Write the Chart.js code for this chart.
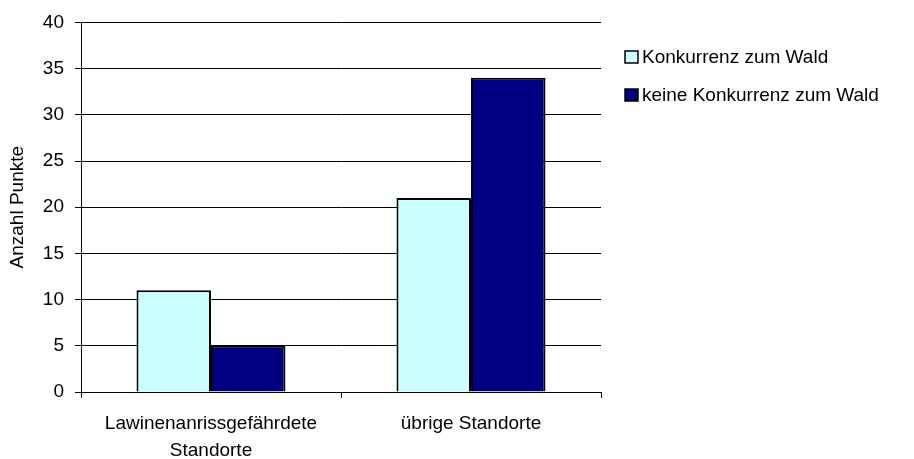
<!DOCTYPE html>
<html>
<head>
<meta charset="utf-8">
<script src="https://cdn.jsdelivr.net/npm/chart.js@4/dist/chart.umd.min.js"></script>
<style>
html,body{margin:0;padding:0;background:#fff;}
#wrap{width:914px;height:459px;position:relative;}
</style>
</head>
<body>
<div id="wrap"><canvas id="c" width="914" height="459"></canvas></div>
<script>
const categories = [["Lawinenanrissgefährdete", "Standorte"], "übrige Standorte"];
const seriesNames = ["Konkurrenz zum Wald", "keine Konkurrenz zum Wald"];
const konkurrenz = [11, 21];
const keineKonkurrenz = [5, 34];
const yTicks = [0, 5, 10, 15, 20, 25, 30, 35, 40];
const yTitle = "Anzahl Punkte";

const FONT = "'Liberation Sans', Arial, sans-serif";
const FS = 19;

const legendPlugin = {
  id: 'customLegend',
  afterDraw(chart) {
    const ctx = chart.ctx;
    ctx.save();
    ctx.font = FS + "px " + FONT;
    ctx.textBaseline = 'middle';
    ctx.textAlign = 'left';
    chart.data.datasets.forEach((ds, i) => {
      const cy = 57 + i * 38;
      ctx.fillStyle = ds.backgroundColor;
      ctx.fillRect(625, cy - 6, 13, 12);
      ctx.strokeStyle = '#000';
      ctx.lineWidth = 1.5;
      ctx.strokeRect(625, cy - 6, 13, 12);
      ctx.fillStyle = '#000';
      ctx.fillText(ds.label, 642, cy + 1);
    });
    ctx.restore();
  }
};

new Chart(document.getElementById('c'), {
  type: 'bar',
  data: {
    labels: categories,
    datasets: [
      { label: seriesNames[0], data: konkurrenz, backgroundColor: '#CCFFFF', borderColor: '#000', borderWidth: 2 },
      { label: seriesNames[1], data: keineKonkurrenz, backgroundColor: '#000080', borderColor: '#000', borderWidth: 2 }
    ]
  },
  options: {
    responsive: false,
    animation: false,
    devicePixelRatio: 1,
    layout: { padding: { left: 0, right: 313, top: 22, bottom: 0 } },
    datasets: { bar: { categoryPercentage: 0.573, barPercentage: 1.0 } },
    plugins: { legend: { display: false }, tooltip: { enabled: false } },
    scales: {
      x: {
        grid: { offset: true, drawOnChartArea: false, drawTicks: true, tickLength: 6, color: '#000' },
        border: { color: '#000', width: 1 },
        ticks: { color: '#000', font: { family: FONT, size: FS, lineHeight: 1.38 }, padding: 13, maxRotation: 0 },
        afterFit(scale) { scale.height = 67; }
      },
      y: {
        min: 0, max: 40,
        afterBuildTicks(scale) { scale.ticks = yTicks.map(v => ({ value: v })); },
        grid: { color: '#000', tickLength: 6, lineWidth: 1 },
        border: { color: '#000', width: 1 },
        ticks: { color: '#000', font: { family: FONT, size: FS }, padding: 11 },
        title: { display: true, text: yTitle, color: '#000', font: { family: FONT, size: FS }, padding: { top: 6, bottom: 0 } },
        afterFit(scale) { scale.width = 81; }
      }
    }
  },
  plugins: [legendPlugin]
});
</script>
</body>
</html>
